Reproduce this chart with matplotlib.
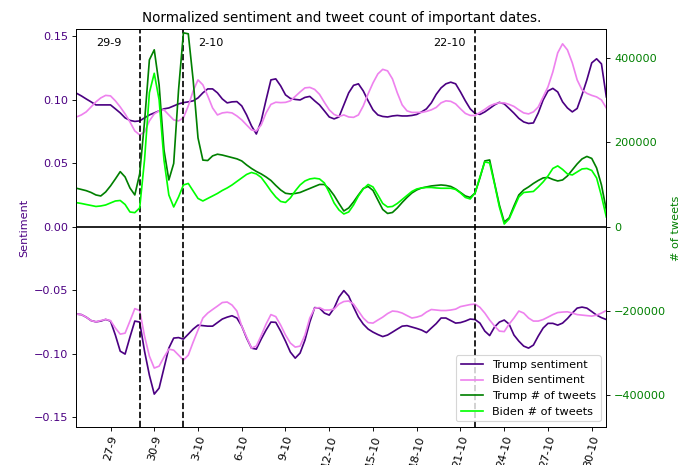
import matplotlib
matplotlib.use('Agg')
import matplotlib.pyplot as plt
import matplotlib.dates as mdates
import numpy as np
import pandas as pd
from datetime import datetime

# 8-hourly samples, 24-9 16:00 .. 31-10 00:00
trump_pos = [0.1051, 0.1030, 0.1006, 0.0983, 0.0959, 0.0959, 0.0959, 0.0959, 0.0928, 0.0896,
             0.0857, 0.0837, 0.0829, 0.0833, 0.0857, 0.0880, 0.0896, 0.0912, 0.0928, 0.0935,
             0.0951, 0.0967, 0.0977, 0.0983, 0.0991, 0.1014, 0.1054, 0.1085, 0.1085, 0.1054,
             0.1006, 0.0975, 0.0983, 0.0985, 0.0951, 0.0880, 0.0794, 0.0730, 0.0833, 0.0998,
             0.1156, 0.1164, 0.1109, 0.1038, 0.1010, 0.1002, 0.0998, 0.1018, 0.1026, 0.0991,
             0.0959, 0.0912, 0.0864, 0.0849, 0.0864, 0.0959, 0.1054, 0.1113, 0.1125, 0.1069,
             0.0991, 0.0920, 0.0880, 0.0868, 0.0864, 0.0872, 0.0876, 0.0872, 0.0872, 0.0876,
             0.0884, 0.0904, 0.0928, 0.0975, 0.1042, 0.1093, 0.1125, 0.1138, 0.1125, 0.1061,
             0.0991, 0.0928, 0.0892, 0.0884, 0.0904, 0.0931, 0.0959, 0.0979, 0.0967, 0.0931,
             0.0894, 0.0853, 0.0825, 0.0813, 0.0817, 0.0896, 0.0998, 0.1069, 0.1089, 0.1061,
             0.0983, 0.0935, 0.0904, 0.0931, 0.1038, 0.1156, 0.1290, 0.1322, 0.1282, 0.1022]

biden_pos = [0.0864, 0.0880, 0.0904, 0.0943, 0.0983, 0.1014, 0.1034, 0.1030, 0.0991, 0.0943,
             0.0888, 0.0825, 0.0754, 0.0723, 0.0746, 0.0833, 0.0888, 0.0912, 0.0920, 0.0880,
             0.0841, 0.0833, 0.0857, 0.0951, 0.1069, 0.1156, 0.1117, 0.1030, 0.0935, 0.0880,
             0.0896, 0.0901, 0.0896, 0.0872, 0.0841, 0.0801, 0.0762, 0.0754, 0.0801, 0.0896,
             0.0963, 0.0980, 0.0977, 0.0979, 0.0991, 0.1026, 0.1061, 0.1093, 0.1097, 0.1081,
             0.1042, 0.0979, 0.0920, 0.0884, 0.0868, 0.0880, 0.0864, 0.0861, 0.0880, 0.0951,
             0.1046, 0.1132, 0.1203, 0.1239, 0.1227, 0.1164, 0.1054, 0.0959, 0.0912, 0.0900,
             0.0900, 0.0900, 0.0908, 0.0920, 0.0939, 0.0975, 0.0991, 0.0987, 0.0967, 0.0928,
             0.0892, 0.0876, 0.0876, 0.0900, 0.0924, 0.0951, 0.0967, 0.0975, 0.0975, 0.0963,
             0.0947, 0.0920, 0.0896, 0.0888, 0.0904, 0.0943, 0.1022, 0.1101, 0.1219, 0.1369,
             0.1440, 0.1392, 0.1290, 0.1156, 0.1077, 0.1050, 0.1034, 0.1022, 0.0998, 0.0935]

trump_neg = [-0.0688, -0.0692, -0.0712, -0.0739, -0.0749, -0.0743, -0.0730, -0.0743, -0.0853, -0.0980,
             -0.1003, -0.0869, -0.0743, -0.0751, -0.0980, -0.1169, -0.1318, -0.1271, -0.1113, -0.0956,
             -0.0877, -0.0873, -0.0885, -0.0846, -0.0806, -0.0775, -0.0779, -0.0783, -0.0783, -0.0755,
             -0.0727, -0.0712, -0.0701, -0.0719, -0.0783, -0.0877, -0.0956, -0.0964, -0.0885, -0.0814,
             -0.0751, -0.0753, -0.0822, -0.0901, -0.0987, -0.1035, -0.0995, -0.0893, -0.0751, -0.0637,
             -0.0641, -0.0680, -0.0696, -0.0641, -0.0554, -0.0503, -0.0546, -0.0633, -0.0712, -0.0767,
             -0.0806, -0.0830, -0.0849, -0.0865, -0.0853, -0.0830, -0.0806, -0.0783, -0.0779, -0.0790,
             -0.0801, -0.0814, -0.0834, -0.0798, -0.0763, -0.0719, -0.0719, -0.0739, -0.0759, -0.0755,
             -0.0743, -0.0727, -0.0731, -0.0759, -0.0822, -0.0857, -0.0790, -0.0751, -0.0735, -0.0767,
             -0.0853, -0.0901, -0.0940, -0.0956, -0.0932, -0.0861, -0.0798, -0.0761, -0.0761, -0.0775,
             -0.0759, -0.0723, -0.0680, -0.0641, -0.0633, -0.0641, -0.0668, -0.0696, -0.0716, -0.0731]

biden_neg = [-0.0688, -0.0692, -0.0712, -0.0739, -0.0749, -0.0739, -0.0730, -0.0739, -0.0798, -0.0846,
             -0.0838, -0.0743, -0.0645, -0.0660, -0.0861, -0.1019, -0.1113, -0.1098, -0.1027, -0.0964,
             -0.0972, -0.1011, -0.1050, -0.1011, -0.0909, -0.0814, -0.0719, -0.0680, -0.0652, -0.0625,
             -0.0597, -0.0593, -0.0617, -0.0664, -0.0783, -0.0869, -0.0956, -0.0940, -0.0857, -0.0767,
             -0.0692, -0.0708, -0.0775, -0.0853, -0.0916, -0.0948, -0.0940, -0.0853, -0.0719, -0.0641,
             -0.0637, -0.0656, -0.0656, -0.0649, -0.0609, -0.0589, -0.0585, -0.0609, -0.0664, -0.0719,
             -0.0755, -0.0759, -0.0735, -0.0712, -0.0684, -0.0664, -0.0668, -0.0680, -0.0700, -0.0719,
             -0.0712, -0.0700, -0.0672, -0.0652, -0.0656, -0.0660, -0.0660, -0.0656, -0.0649, -0.0629,
             -0.0621, -0.0613, -0.0609, -0.0635, -0.0680, -0.0735, -0.0782, -0.0822, -0.0826, -0.0767,
             -0.0719, -0.0664, -0.0680, -0.0719, -0.0743, -0.0743, -0.0731, -0.0712, -0.0692, -0.0676,
             -0.0672, -0.0670, -0.0680, -0.0692, -0.0696, -0.0700, -0.0704, -0.0696, -0.0680, -0.0660]

trump_count = [91200, 88400, 85500, 81200, 75300, 72900, 82400, 96700, 113300, 130600,
               118000, 91900, 75300, 125200, 248700, 395900, 419700, 336500, 182200, 110900,
               150000, 324700, 460000, 457700, 348400, 210700, 158000, 157000, 168000, 172000,
               170000, 167000, 164000, 161000, 156000, 146500, 138200, 131100, 125200, 118000,
               109700, 97900, 87200, 79300, 77700, 78900, 81200, 86000, 90700, 95500,
               100200, 100200, 89500, 74100, 55100, 37300, 44400, 58700, 75300, 90700,
               95500, 86000, 63400, 40900, 31400, 33700, 44400, 57500, 69400, 80000,
               87200, 91900, 94300, 96700, 97900, 99000, 97900, 95500, 89500, 81200,
               72900, 69400, 80000, 115700, 156000, 158400, 103700, 51500, 11200, 20700,
               49200, 75300, 87200, 94300, 102600, 109700, 115700, 116900, 112100, 108500,
               110900, 120400, 134700, 148900, 160800, 166700, 162000, 139400, 99000, 39700]

biden_count = [57000, 55100, 52700, 50400, 48000, 49200, 51500, 56300, 61000, 62200,
               52700, 34900, 33300, 44400, 158400, 318000, 364000, 301000, 158000, 75300,
               46800, 70500, 99000, 102600, 84800, 67000, 61000, 67000, 72900, 78900,
               86000, 91900, 99000, 107400, 115700, 124000, 128700, 125200, 116900, 101400,
               84800, 70500, 59900, 57500, 68200, 84800, 99000, 108500, 113300, 115000,
               113300, 103800, 81200, 56300, 39700, 30200, 34900, 51500, 72900, 89500,
               100200, 94300, 75300, 55100, 46800, 48000, 55100, 64600, 74100, 83600,
               89500, 91900, 93100, 93100, 91900, 91200, 91200, 91200, 88400, 80000,
               69400, 65800, 80000, 118000, 153700, 151300, 101400, 46800, 6400, 18300,
               44400, 70500, 81200, 82400, 83600, 94300, 106200, 120400, 138200, 144200,
               135900, 125200, 122800, 129900, 137000, 138200, 133500, 115700, 72900, 23000]

dates = pd.date_range('2020-09-24 16:00', periods=len(trump_pos), freq='8h')

important = [datetime(2020, 9, 29), datetime(2020, 10, 2), datetime(2020, 10, 22)]
important_labels = ['29-9', '2-10', '22-10']
label_pos = [datetime(2020, 9, 26, 21), datetime(2020, 10, 3, 21), datetime(2020, 10, 20, 5)]

fig, ax1 = plt.subplots(figsize=(689 / 81, 465 / 81), dpi=81)
fig.subplots_adjust(left=0.111, right=0.88, top=0.938, bottom=0.082)
ax2 = ax1.twinx()

l1, = ax1.plot(dates, trump_pos, color='indigo', label='Trump sentiment')
ax1.plot(dates, trump_neg, color='indigo')
l2, = ax1.plot(dates, biden_pos, color='violet', label='Biden sentiment')
ax1.plot(dates, biden_neg, color='violet')

l3, = ax2.plot(dates, trump_count, color='green', label='Trump # of tweets')
l4, = ax2.plot(dates, biden_count, color='lime', label='Biden # of tweets')

ax1.axhline(0, color='black', lw=1.5)
for d, lab, lp in zip(important, important_labels, label_pos):
    ax1.axvline(d, color='black', ls='--', lw=1.5)
    ax1.text(lp, 0.1448, lab, ha='center', va='center')

ax1.set_ylim(-0.1576, 0.1558)
ax2.set_ylim(-475000, 469500)
ax1.set_xlim(dates[0], dates[-1])
ax1.set_yticks([-0.15, -0.10, -0.05, 0.0, 0.05, 0.10, 0.15])
ax2.set_yticks([-400000, -200000, 0, 200000, 400000])

ax1.set_xticks(pd.date_range('2020-09-27', '2020-10-30', freq='3D'))
ax1.xaxis.set_major_formatter(mdates.DateFormatter('%-d-%-m'))
plt.setp(ax1.get_xticklabels(), rotation=75)

ax1.set_ylabel('Sentiment', color='indigo')
ax1.tick_params(axis='y', labelcolor='indigo')
ax2.set_ylabel('# of tweets', color='green')
ax2.tick_params(axis='y', labelcolor='green')

ax1.set_title('Normalized sentiment and tweet count of important dates.')
ax2.legend(handles=[l1, l2, l3, l4], loc='lower right')

plt.savefig('out.png', dpi=81)
